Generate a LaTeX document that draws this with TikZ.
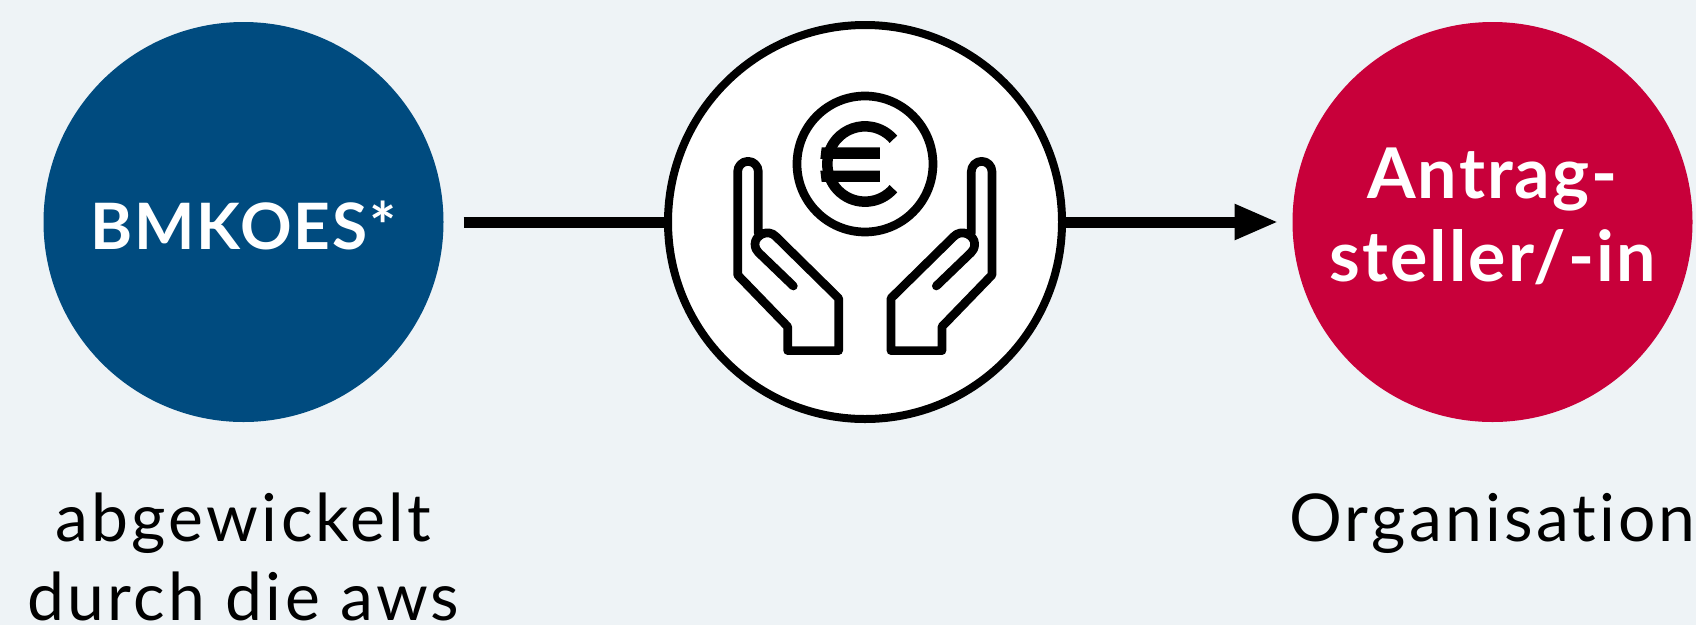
\documentclass[tikz,border=0pt]{standalone}
\usepackage{fontspec}
\setmainfont{Lato}
\newfontfamily\capfont[LetterSpace=5,Ligatures=NoCommon]{Lato}
\newfontfamily\headfont[LetterSpace=3,Ligatures=NoCommon]{Lato Bold}
\usetikzlibrary{arrows.meta}
\definecolor{bgc}{RGB}{238,243,246}
\definecolor{bluec}{RGB}{0,75,127}
\definecolor{redc}{RGB}{200,0,58}
\tikzset{
 disc/.style={circle,minimum size=400pt,inner sep=0pt,outer sep=0pt},
 whitebold/.style={text=white,anchor=base,inner sep=0pt,font=\headfont\fontsize{70}{70}\selectfont},
 capt/.style={text=black,anchor=base,inner sep=0pt,font=\capfont\fontsize{66}{66}\selectfont},
 conn/.style={line width=11pt},
 icon/.style={line width=8.7pt,line cap=round,line join=round}
}
\begin{document}
\begin{tikzpicture}[x=1pt,y=-1pt]
\useasboundingbox[fill=bgc] (0,0) rectangle (1696,625);
\node[disc,fill=bluec] (a) at (243.5,222) {};
\node[disc,fill=redc] (c) at (1492.5,222) {};
\node[disc,minimum size=394pt,fill=white,draw=black,line width=8pt] (m) at (865,222) {};
\draw[conn,shorten <=20pt] (a) -- (m);
\draw[conn,-{Triangle[length=44pt,width=33pt]},shorten >=14pt] (m) -- (c);
% icon
\begin{scope}[shift={(700,60)},x=0.3333pt,y=-0.3333pt]
\draw[icon] (495,312) circle (204);
\draw[line width=10.5pt] (495,312) ++(41:113) arc (41:319:113);
\fill (365,262) -- (540,262) -- (540,297) -- (361,297) -- cycle;
\fill (361,332) -- (540,332) -- (540,366) -- (365,366) -- cycle;
\foreach \s/\o in {1/0,-1/989}{
\begin{scope}[shift={(\o,0)},xscale=\s]
\draw[icon] (175,520) -- (175,335) arc (0:-180:31) -- (113,645) -- (263,800) -- (263,872) -- (416,872) -- (416,715) -- (228,530)
 .. controls (205,505) and (165,525) .. (165,552) .. controls (165,565) and (170,572) .. (176,578) -- (280,678);
\end{scope}}
\end{scope}
\node[whitebold,font=\headfont\fontsize{64}{64}\selectfont] (t1) at (243.5,249) {BMKOES*};
\node[whitebold] (t2) at (1492.5,198) {Antrag-};
\node[whitebold] (t3) at (1492.5,281) {steller/-in};
\node[capt] (t4) at (243.5,541) {abgewickelt};
\node[capt] (t5) at (243.5,620) {durch die aws};
\node[capt] (t6) at (1492.5,541) {Organisation};
\end{tikzpicture}
\end{document}
